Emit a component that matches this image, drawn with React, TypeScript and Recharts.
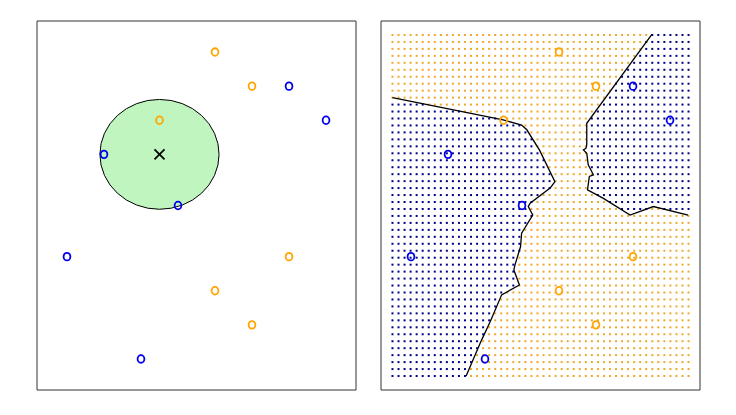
import React from "react";
import { ScatterChart, Scatter, XAxis, YAxis, ReferenceArea } from "recharts";

// training points (same in both panels)
const blueX = [6, 7, 1, 3, 0, 2];
const blueY = [8, 7, 6, 4.5, 3, 0];
const orangeX = [4, 5, 2.5, 6, 4, 5];
const orangeY = [9, 8, 7, 3, 2, 1];

// test observation and its K=3 neighbourhood
const testX = 2.5;
const testY = 6;
const testRadius = 1.61;

// decision boundary lines
const leftBoundaryX = [-0.5, 2.49, 2.99, 3.13, 3.47, 3.89, 3.76, 3.22, 3.17, 3.29, 2.99, 2.96, 2.81, 2.78, 2.93, 2.45, 2.14, 1.91, 1.49];
const leftBoundaryY = [7.66, 7.01, 6.86, 6.72, 6.13, 5.2, 5.01, 4.57, 4.47, 4.22, 3.69, 3.29, 2.76, 2.61, 2.17, 1.88, 1.09, 0.56, -0.5];
const rightBoundaryX = [6.51, 4.75, 4.75, 4.73, 4.66, 4.75, 4.79, 4.93, 4.82, 4.77, 5.2, 5.92, 6.55, 7.49];
const rightBoundaryY = [9.52, 6.91, 6.28, 6.18, 6.13, 6.03, 5.69, 5.4, 5.35, 4.96, 4.71, 4.22, 4.47, 4.22];

// 50x50 classification grid, row 0 at the top
// last blue column of the left region per row (-1 = none)
const leftBlueEnd = [
  -1, -1, -1, -1, -1, -1, -1, -1, -1, -1,
  5, 11, 17, 21, 22, 23, 23, 24, 25, 25,
  26, 26, 26, 24, 23, 22, 23, 22, 21, 21,
  21, 21, 20, 20, 20, 20, 20, 18, 17, 17,
  16, 16, 15, 15, 14, 14, 13, 13, 12, 12,
];
// first blue column of the top-right region per row (50 = none)
const rightBlueStart = [
  43, 42, 42, 41, 40, 39, 38, 37, 37, 36,
  35, 34, 33, 33, 33, 33, 33, 33, 33, 33,
  34, 33, 33, 34, 36, 38, 50, 50, 50, 50,
  50, 50, 50, 50, 50, 50, 50, 50, 50, 50,
  50, 50, 50, 50, 50, 50, 50, 50, 50, 50,
];
// orange cells inside the right region (row, fromCol, toCol)
const rightOrangeGaps = [[25, 43, 44]];

const gridN = 50;
const gridXRange = [-0.5, 7.5];
const gridYRange = [9.5, -0.5];

const xMin = -0.81, xMax = 7.81;
const yMin = -0.91, yMax = 9.91;

const CHART_W = 360;
const CHART_H = 392;
const margin = { top: 13, right: 12, bottom: 10, left: 29 };
const plotW = CHART_W - margin.left - margin.right;
const plotH = CHART_H - margin.top - margin.bottom;

const BLUE = "#0000ee";
const ORANGE = "#ffa500";
const DOT_BLUE = "#00008b";
const DOT_ORANGE = "#f0a828";

const bluePts = blueX.map((x, i) => ({ x, y: blueY[i] }));
const orangePts = orangeX.map((x, i) => ({ x, y: orangeY[i] }));
const leftBoundary = leftBoundaryX.map((x, i) => ({ x, y: leftBoundaryY[i] }));
const rightBoundary = rightBoundaryX.map((x, i) => ({ x, y: rightBoundaryY[i] }));

const gridBlue: { x: number; y: number }[] = [];
const gridOrange: { x: number; y: number }[] = [];
for (let r = 0; r < gridN; r++) {
  const y = gridYRange[0] + (r * (gridYRange[1] - gridYRange[0])) / (gridN - 1);
  for (let c = 0; c < gridN; c++) {
    const x = gridXRange[0] + (c * (gridXRange[1] - gridXRange[0])) / (gridN - 1);
    const gap = rightOrangeGaps.some((g) => g[0] === r && c >= g[1] && c <= g[2]);
    const isBlue = c <= leftBlueEnd[r] || (c >= rightBlueStart[r] && !gap);
    (isBlue ? gridBlue : gridOrange).push({ x, y });
  }
}

const oMark = (color: string) => (p: any) => (
  <ellipse cx={p.cx} cy={p.cy} rx={3.4} ry={3.8} fill="none" stroke={color} strokeWidth={1.8} />
);
const gridDot = (color: string) => (p: any) => (
  <rect x={p.cx - 1} y={p.cy - 1} width={2} height={2} fill={color} />
);
const crossMark = (p: any) => (
  <g stroke="#000" strokeWidth={1.8}>
    <line x1={p.cx - 5} y1={p.cy - 5} x2={p.cx + 5} y2={p.cy + 5} />
    <line x1={p.cx - 5} y1={p.cy + 5} x2={p.cx + 5} y2={p.cy - 5} />
  </g>
);
const neighbourhood = (p: any) => (
  <ellipse
    cx={p.cx}
    cy={p.cy}
    rx={(testRadius * plotW) / (xMax - xMin)}
    ry={(testRadius * plotH) / (yMax - yMin)}
    fill="#c0f5c0"
    stroke="#000"
    strokeWidth={1}
  />
);
const noMark = () => <g />;

const Panel = ({ left, children }: { left: number; children: React.ReactNode }) => (
  <div style={{ position: "absolute", left, top: 0 }}>
    <ScatterChart width={CHART_W} height={CHART_H} margin={margin}>
      <XAxis type="number" dataKey="x" domain={[xMin, xMax]} allowDataOverflow hide />
      <YAxis type="number" dataKey="y" domain={[yMin, yMax]} allowDataOverflow hide />
      {children}
      <ReferenceArea x1={xMin} x2={xMax} y1={yMin} y2={yMax} fill="none" stroke="#333" strokeWidth={1} />
    </ScatterChart>
  </div>
);

export default function App() {
  return (
    <div style={{ position: "relative", width: 720, height: 400 }}>
      <Panel left={0}>
        <Scatter data={[{ x: testX, y: testY }]} shape={neighbourhood} isAnimationActive={false} />
        <Scatter data={orangePts} shape={oMark(ORANGE)} isAnimationActive={false} />
        <Scatter data={bluePts} shape={oMark(BLUE)} isAnimationActive={false} />
        <Scatter data={[{ x: testX, y: testY }]} shape={crossMark} isAnimationActive={false} />
      </Panel>
      <Panel left={344}>
        <Scatter data={gridOrange} shape={gridDot(DOT_ORANGE)} isAnimationActive={false} />
        <Scatter data={gridBlue} shape={gridDot(DOT_BLUE)} isAnimationActive={false} />
        <Scatter data={leftBoundary} line={{ stroke: "#000", strokeWidth: 1.3 }} shape={noMark} isAnimationActive={false} />
        <Scatter data={rightBoundary} line={{ stroke: "#000", strokeWidth: 1.3 }} shape={noMark} isAnimationActive={false} />
        <Scatter data={orangePts} shape={oMark(ORANGE)} isAnimationActive={false} />
        <Scatter data={bluePts} shape={oMark(BLUE)} isAnimationActive={false} />
      </Panel>
    </div>
  );
}
